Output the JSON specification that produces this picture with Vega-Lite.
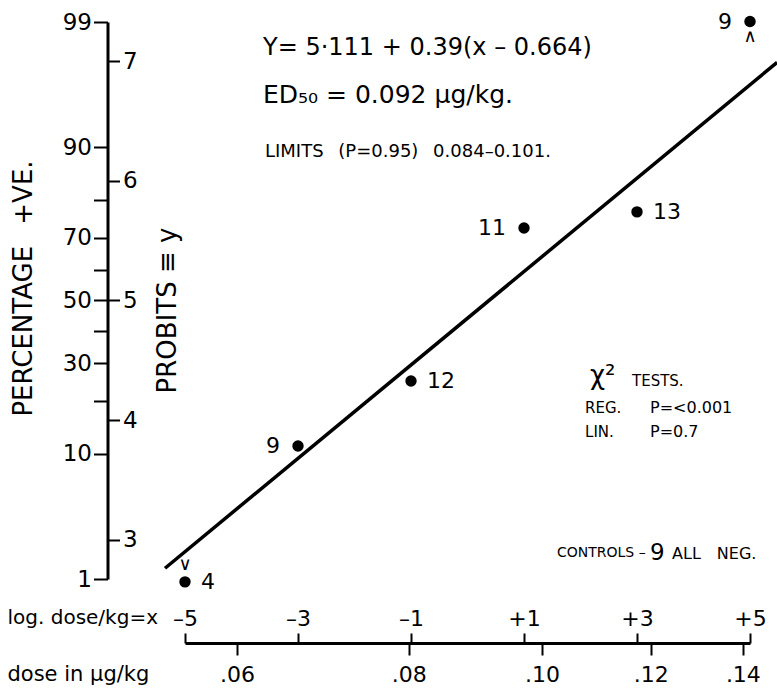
{
  "$schema": "https://vega.github.io/schema/vega-lite/v6.json",
  "width": 565,
  "height": 557,
  "autosize": {"type": "none"},
  "padding": {"left": 185, "top": 22, "right": 27, "bottom": 120},
  "background": "white",
  "config": {
    "view": {"stroke": null},
    "font": "DejaVu Sans",
    "axis": {
      "labelColor": "black",
      "titleColor": "black",
      "tickColor": "black",
      "domainColor": "black",
      "grid": false,
      "titleFontWeight": "normal",
      "labelFont": "DejaVu Sans",
      "titleFont": "DejaVu Sans"
    },
    "text": {"color": "black"}
  },
  "datasets": {
    "points": [
      {"x": -5, "y": 2.65, "n": 4},
      {"x": -3, "y": 3.785, "n": 9},
      {"x": -1, "y": 4.328, "n": 12},
      {"x": 1, "y": 5.605, "n": 11},
      {"x": 3, "y": 5.74, "n": 13},
      {"x": 5, "y": 7.33, "n": 9}
    ]
  },
  "layer": [
    {
      "data": {"values": [{"x": -5.354, "y": 2.764}, {"x": 5.48, "y": 6.989}]},
      "mark": {"type": "line", "color": "black", "strokeWidth": 3.5},
      "encoding": {
        "x": {
          "field": "x", "type": "quantitative",
          "scale": {"domain": [-5, 5], "nice": false, "zero": false},
          "axis": {
            "orient": "top", "offset": -621,
            "values": [-5, -3, -1, 1, 3, 5],
            "labelExpr": "datum.value > 0 ? '+' + datum.value : '–' + abs(datum.value)",
            "tickSize": 10, "tickWidth": 2, "domainWidth": 3,
            "labelFontSize": 22, "labelPadding": 3, "labelFlush": false,
            "title": "log. dose/kg=x", "titleFontSize": 20,
            "titleX": -178, "titleY": -26, "titleAngle": 0,
            "titleAlign": "left", "titleBaseline": "middle"
          }
        },
        "y": {
          "field": "y", "type": "quantitative",
          "scale": {"domain": [2.674, 7.326], "nice": false, "zero": false},
          "axis": {
            "orient": "left", "offset": 77.5,
            "values": [2.674, 3.718, 4.158, 4.476, 4.747, 5, 5.253, 5.524, 5.842, 6.282, 7.326],
            "labelExpr": "datum.value < 3 ? '1' : datum.value < 3.9 ? '10' : datum.value < 4.3 ? '' : datum.value < 4.6 ? '30' : datum.value < 4.9 ? '' : datum.value < 5.1 ? '50' : datum.value < 5.4 ? '' : datum.value < 5.7 ? '70' : datum.value < 6 ? '' : datum.value < 7 ? '90' : '99'",
            "tickSize": 14, "tickWidth": 2, "domainWidth": 3,
            "labelFontSize": 23, "labelPadding": 2, "labelFlush": false, "labelOverlap": false,
            "title": "PERCENTAGE \u2002+VE.", "titleFontSize": 26,
            "titleAngle": 270, "titleX": -84, "titleY": 266,
            "titleAlign": "center", "titleBaseline": "middle"
          }
        }
      }
    },
    {
      "data": {"name": "points"},
      "mark": {"type": "circle", "size": 130, "color": "black", "opacity": 1},
      "encoding": {
        "x": {
          "field": "x", "type": "quantitative",
          "scale": {"domain": [-5, 5], "nice": false, "zero": false},
          "axis": {
            "orient": "bottom", "offset": 64,
            "values": [-4.081, -1.041, 1.318, 3.245, 4.874],
            "labelExpr": "datum.value < -3 ? '.06' : datum.value < 0 ? '.08' : datum.value < 2 ? '.10' : datum.value < 4 ? '.12' : '.14'",
            "domain": false,
            "tickSize": 12, "tickWidth": 2,
            "labelFontSize": 22, "labelPadding": 9, "labelFlush": false,
            "title": "dose in μg/kg", "titleFontSize": 21,
            "titleX": -178, "titleY": 31, "titleAngle": 0,
            "titleAlign": "left", "titleBaseline": "middle"
          }
        },
        "y": {
          "field": "y", "type": "quantitative",
          "scale": {"domain": [2.674, 7.326], "nice": false, "zero": false},
          "axis": {
            "orient": "right", "offset": -642.5,
            "values": [3, 4, 5, 6, 7], "format": "d",
            "domain": false,
            "tickSize": 12, "tickWidth": 2,
            "labelFontSize": 23, "labelPadding": 3, "labelFlush": false,
            "title": "PROBITS ≡ y", "titleFontSize": 26,
            "titleAngle": 270, "titleX": 60, "titleY": 288,
            "titleAlign": "center", "titleBaseline": "middle"
          }
        }
      }
    },
    {
      "data": {"name": "points"},
      "transform": [{"filter": "datum.x == -5 || datum.x == -1 || datum.x == 3"}],
      "mark": {"type": "text", "align": "left", "baseline": "middle", "dx": 16, "fontSize": 22},
      "encoding": {
        "x": {"field": "x", "type": "quantitative", "axis": null},
        "y": {"field": "y", "type": "quantitative", "axis": null},
        "text": {"field": "n", "type": "nominal"}
      }
    },
    {
      "data": {"name": "points"},
      "transform": [{"filter": "datum.x == -3 || datum.x == 1 || datum.x == 5"}],
      "mark": {"type": "text", "align": "right", "baseline": "middle", "dx": -18, "fontSize": 22},
      "encoding": {
        "x": {"field": "x", "type": "quantitative", "axis": null},
        "y": {"field": "y", "type": "quantitative", "axis": null},
        "text": {"field": "n", "type": "nominal"}
      }
    },
    {
      "data": {"values": [{"x": -5, "y": 2.79, "t": "∨"}, {"x": 5, "y": 7.2, "t": "∧"}]},
      "mark": {"type": "text", "align": "center", "baseline": "middle", "fontSize": 18},
      "encoding": {
        "x": {"field": "x", "type": "quantitative", "axis": null},
        "y": {"field": "y", "type": "quantitative", "axis": null},
        "text": {"field": "t", "type": "nominal"}
      }
    },
    {
      "data": {"values": [
        {"x": -3.619, "y": 7.109, "t": "Y= 5·111 + 0.39(x – 0.664)"}
      ]},
      "mark": {"type": "text", "align": "left", "baseline": "middle", "fontSize": 24},
      "encoding": {
        "x": {"field": "x", "type": "quantitative", "axis": null},
        "y": {"field": "y", "type": "quantitative", "axis": null},
        "text": {"field": "t", "type": "nominal"}
      }
    },
    {
      "data": {"values": [
        {"x": -3.619, "y": 6.716, "t": "ED₅₀ = 0.092 μg/kg."}
      ]},
      "mark": {"type": "text", "align": "left", "baseline": "middle", "fontSize": 25},
      "encoding": {
        "x": {"field": "x", "type": "quantitative", "axis": null},
        "y": {"field": "y", "type": "quantitative", "axis": null},
        "text": {"field": "t", "type": "nominal"}
      }
    },
    {
      "data": {"values": [
        {"x": 3.23, "y": 2.891, "t": "9"}
      ]},
      "mark": {"type": "text", "align": "left", "baseline": "middle", "fontSize": 23},
      "encoding": {
        "x": {"field": "x", "type": "quantitative", "axis": null},
        "y": {"field": "y", "type": "quantitative", "axis": null},
        "text": {"field": "t", "type": "nominal"}
      }
    },
    {
      "data": {"values": [
        {"x": -3.584, "y": 6.24, "t": "LIMITS \u2002(P=0.95) \u20020.084–0.101."}
      ]},
      "mark": {"type": "text", "align": "left", "baseline": "middle", "fontSize": 18},
      "encoding": {
        "x": {"field": "x", "type": "quantitative", "axis": null},
        "y": {"field": "y", "type": "quantitative", "axis": null},
        "text": {"field": "t", "type": "nominal"}
      }
    },
    {
      "data": {"values": [{"x": 2.168, "y": 4.37, "t": "χ²"}]},
      "mark": {"type": "text", "align": "left", "baseline": "middle", "fontSize": 26},
      "encoding": {
        "x": {"field": "x", "type": "quantitative", "axis": null},
        "y": {"field": "y", "type": "quantitative", "axis": null},
        "text": {"field": "t", "type": "nominal"}
      }
    },
    {
      "data": {"values": [
        {"x": 2.912, "y": 4.328, "t": "TESTS."},
        {"x": 2.08, "y": 4.102, "t": "REG."},
        {"x": 2.08, "y": 3.902, "t": "LIN."}
      ]},
      "mark": {"type": "text", "align": "left", "baseline": "middle", "fontSize": 15},
      "encoding": {
        "x": {"field": "x", "type": "quantitative", "axis": null},
        "y": {"field": "y", "type": "quantitative", "axis": null},
        "text": {"field": "t", "type": "nominal"}
      }
    },
    {
      "data": {"values": [
        {"x": 1.584, "y": 2.891, "t": "CONTROLS –"}
      ]},
      "mark": {"type": "text", "align": "left", "baseline": "middle", "fontSize": 14},
      "encoding": {
        "x": {"field": "x", "type": "quantitative", "axis": null},
        "y": {"field": "y", "type": "quantitative", "axis": null},
        "text": {"field": "t", "type": "nominal"}
      }
    },
    {
      "data": {"values": [
        {"x": 3.23, "y": 4.102, "t": "P=<0.001"},
        {"x": 3.23, "y": 3.902, "t": "P=0.7"},
        {"x": 3.62, "y": 2.885, "t": "ALL\u2003NEG."}
      ]},
      "mark": {"type": "text", "align": "left", "baseline": "middle", "fontSize": 16},
      "encoding": {
        "x": {"field": "x", "type": "quantitative", "axis": null},
        "y": {"field": "y", "type": "quantitative", "axis": null},
        "text": {"field": "t", "type": "nominal"}
      }
    }
  ],
  "resolve": {"axis": {"x": "independent", "y": "independent"}}
}
